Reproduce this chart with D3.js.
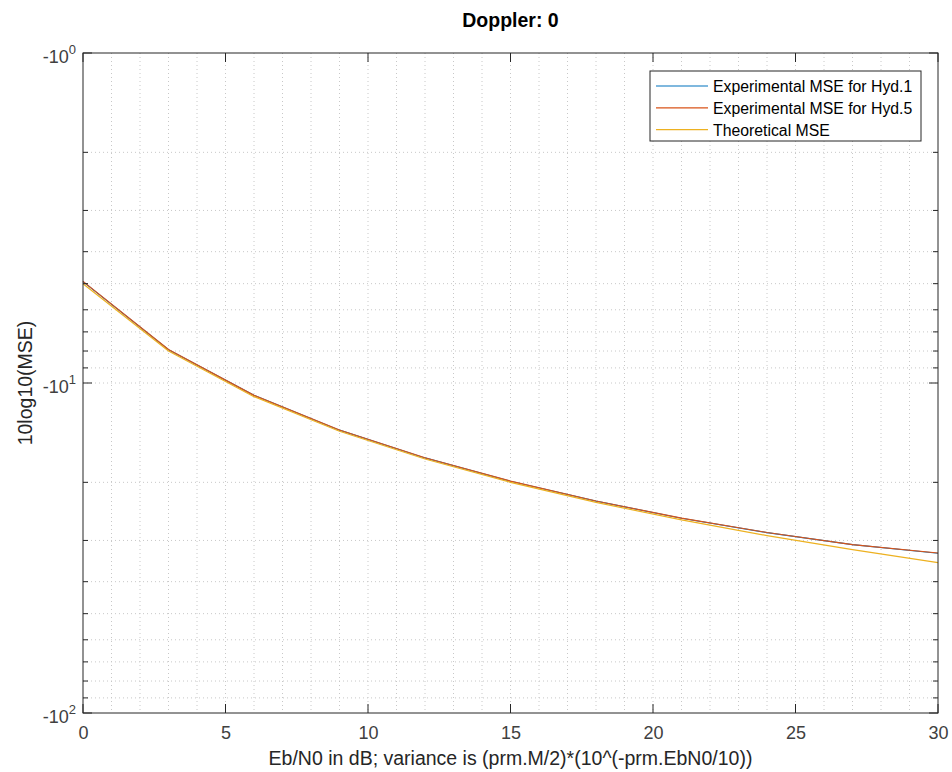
<!DOCTYPE html>
<html>
<head>
<meta charset="utf-8">
<script src="https://cdn.jsdelivr.net/npm/d3@7"></script>
<style>
  body { margin: 0; background: #fff; }
  svg { display: block; font-family: 'Liberation Sans', Arial, sans-serif; }
</style>
</head>
<body>
<div id="chart"></div>
<script>
// Eb/N0 points (dB)
const ebn0 = [0, 3, 6, 9, 12, 15, 18, 21, 24, 27, 30]
// 10log10(MSE) values
const hyd1 = [-4.93, -7.93, -10.9, -13.9, -16.87, -19.85, -22.8, -25.7, -28.4, -30.9, -32.8]
const hyd5 = [-4.92, -7.92, -10.9, -13.88, -16.85, -19.83, -22.78, -25.68, -28.38, -30.88, -32.75]
const theory = [-5.0, -8.0, -11.0, -14.0, -17.0, -20.0, -23.0, -26.0, -29.0, -32.0, -35.0]

const xTicks = [0, 5, 10, 15, 20, 25, 30]
const yDecades = [0, 1, 2]

const series = [
  { name: 'Experimental MSE for Hyd.1', values: hyd1, color: '#0072BD' },
  { name: 'Experimental MSE for Hyd.5', values: hyd5, color: '#D95319' },
  { name: 'Theoretical MSE', values: theory, color: '#EDB120' }
]

const W = 952, H = 772
const margin = { left: 83, right: 14, top: 53, bottom: 59 }
const iw = W - margin.left - margin.right
const ih = H - margin.top - margin.bottom

const svg = d3.select('#chart').append('svg')
  .attr('width', W)
  .attr('height', H)

const x = d3.scaleLinear().domain([0, 30]).range([0, iw])
// magnitude on a log scale: -1 at top, -100 at bottom
const y = d3.scaleLog().domain([1, 100]).range([0, ih])

const g = svg.append('g').attr('transform', `translate(${margin.left},${margin.top})`)

// minor + major grid (dotted)
const xGrid = d3.range(1, 30)
const yGrid = []
for (let k = 0; k < 2; k++) {
  for (let m = 1; m <= 9; m++) {
    const v = m * Math.pow(10, k)
    if (v > 1) yGrid.push(v)
  }
}

g.append('g').selectAll('line')
  .data(xGrid)
  .enter()
  .append('line')
  .attr('x1', d => x(d)).attr('x2', d => x(d))
  .attr('y1', 0).attr('y2', ih)
  .attr('stroke', '#c8c8c8')
  .attr('stroke-width', 1)
  .attr('stroke-dasharray', '1,3')

g.append('g').selectAll('line')
  .data(yGrid)
  .enter()
  .append('line')
  .attr('x1', 0).attr('x2', iw)
  .attr('y1', d => y(d)).attr('y2', d => y(d))
  .attr('stroke', '#c8c8c8')
  .attr('stroke-width', 1)
  .attr('stroke-dasharray', '1,3')

// lines
const line = d3.line()
  .x((d, i) => x(ebn0[i]))
  .y(d => y(-d))

g.append('g').selectAll('path')
  .data(series)
  .enter()
  .append('path')
  .attr('d', d => line(d.values))
  .attr('fill', 'none')
  .attr('stroke', d => d.color)
  .attr('stroke-width', 1.2)

// axes box
const axisColor = '#262626'
const yMinor = []
for (let k = 0; k < 2; k++) {
  for (let m = 2; m <= 9; m++) yMinor.push(m * Math.pow(10, k))
}

const xAxis = d3.axisBottom(x).tickValues(xTicks).tickSize(0).tickPadding(0)
const gx = g.append('g').attr('transform', `translate(0,${ih})`).call(xAxis)
gx.select('.domain').remove()
gx.selectAll('text')
  .attr('dy', null)
  .attr('y', 26)
  .attr('font-size', '18px')
  .attr('fill', '#404040')
  .attr('font-family', "'Liberation Sans', Arial, sans-serif")

// tick marks: x ticks on bottom & top, y ticks on left & right
const tickLen = 9
const ticks = g.append('g').attr('stroke', axisColor).attr('stroke-width', 1)
xTicks.forEach(t => {
  ticks.append('line').attr('x1', x(t)).attr('x2', x(t)).attr('y1', ih).attr('y2', ih - tickLen)
  ticks.append('line').attr('x1', x(t)).attr('x2', x(t)).attr('y1', 0).attr('y2', tickLen)
})
yDecades.forEach(k => {
  const v = Math.pow(10, k)
  ticks.append('line').attr('x1', 0).attr('x2', tickLen).attr('y1', y(v)).attr('y2', y(v))
  ticks.append('line').attr('x1', iw).attr('x2', iw - tickLen).attr('y1', y(v)).attr('y2', y(v))
})
yMinor.forEach(v => {
  ticks.append('line').attr('x1', 0).attr('x2', 5).attr('y1', y(v)).attr('y2', y(v))
  ticks.append('line').attr('x1', iw).attr('x2', iw - 5).attr('y1', y(v)).attr('y2', y(v))
})

g.append('rect')
  .attr('x', 0).attr('y', 0)
  .attr('width', iw).attr('height', ih)
  .attr('fill', 'none')
  .attr('stroke', axisColor)
  .attr('stroke-width', 1)

// y tick labels: -10^k
const yLab = g.append('g')
yDecades.forEach(k => {
  const t = yLab.append('text')
    .attr('x', -7)
    .attr('y', y(Math.pow(10, k)) + 10)
    .attr('text-anchor', 'end')
    .attr('font-size', '18px')
    .attr('fill', '#404040')
  t.append('tspan').text('-10')
  t.append('tspan')
    .attr('dy', -9)
    .attr('font-size', '13px')
    .text(k)
})

// title
svg.append('text')
  .attr('x', margin.left + iw / 2)
  .attr('y', 27)
  .attr('text-anchor', 'middle')
  .attr('font-size', '19.5px')
  .attr('font-weight', 'bold')
  .attr('fill', '#000')
  .text('Doppler: 0')

// axis labels
svg.append('text')
  .attr('x', margin.left + iw / 2)
  .attr('y', 765)
  .attr('text-anchor', 'middle')
  .attr('font-size', '19.5px')
  .attr('fill', '#262626')
  .text('Eb/N0 in dB; variance is (prm.M/2)*(10^(-prm.EbN0/10))')

svg.append('text')
  .attr('transform', `translate(32,${margin.top + ih / 2}) rotate(-90)`)
  .attr('text-anchor', 'middle')
  .attr('font-size', '19.5px')
  .attr('fill', '#262626')
  .text('10log10(MSE)')

// legend
const lg = svg.append('g').attr('transform', 'translate(650,71)')
lg.append('rect')
  .attr('width', 271).attr('height', 70)
  .attr('fill', '#fff')
  .attr('stroke', axisColor)
  .attr('stroke-width', 1)
series.forEach((s, i) => {
  const yy = 15 + i * 21.8
  lg.append('line')
    .attr('x1', 6).attr('x2', 58)
    .attr('y1', yy).attr('y2', yy)
    .attr('stroke', s.color)
    .attr('stroke-width', 1.2)
  lg.append('text')
    .attr('x', 63).attr('y', yy + 6)
    .attr('font-size', '15.8px')
    .attr('fill', '#000')
    .text(s.name)
})
</script>
</body>
</html>
